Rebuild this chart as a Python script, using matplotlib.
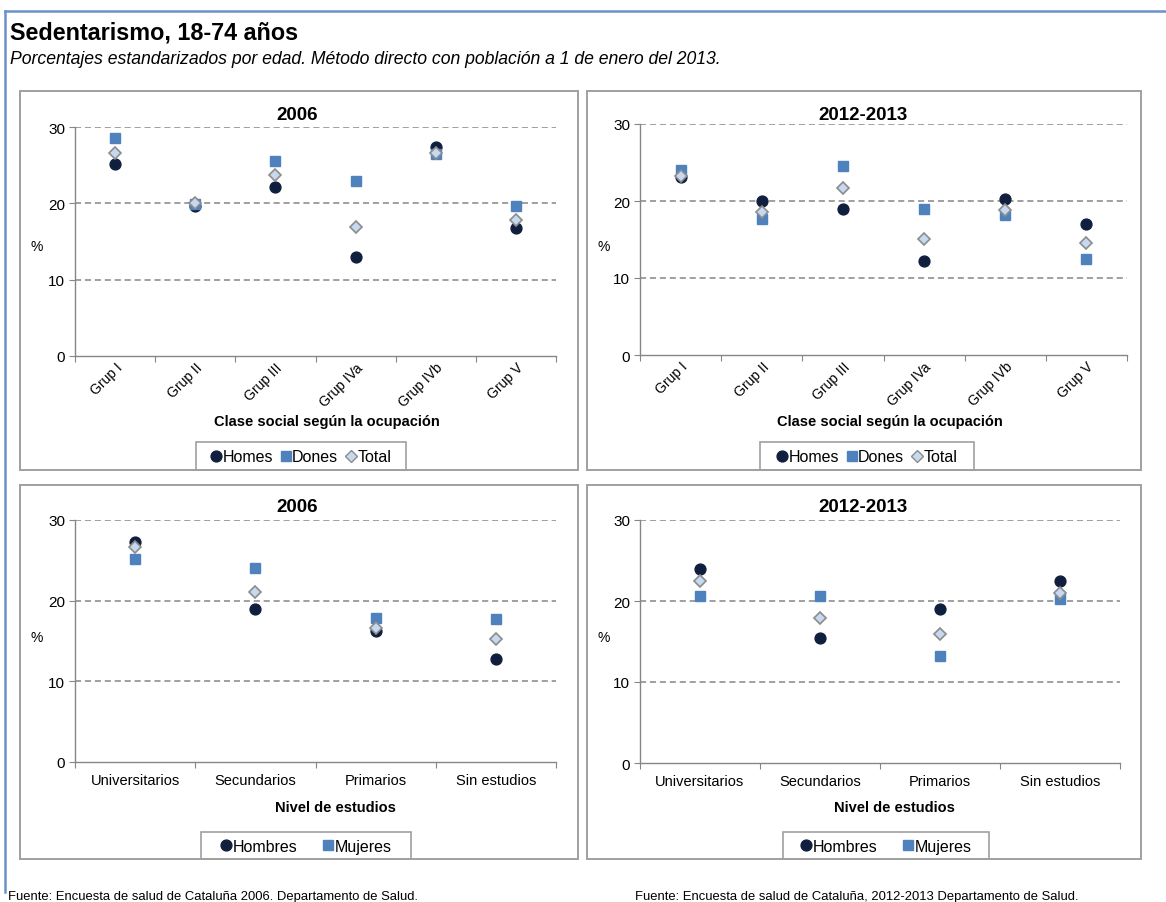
import matplotlib
matplotlib.use("Agg")
import matplotlib.pyplot as plt
import matplotlib.transforms as mtransforms
from matplotlib.patches import Rectangle
from matplotlib.lines import Line2D
import numpy as np

plt.rcParams['font.family'] = ['Liberation Sans', 'DejaVu Sans']

# ---- data ---------------------------------------------------------------
clases = ["Grup I", "Grup II", "Grup III", "Grup IVa", "Grup IVb", "Grup V"]
homes_2006 = [25.2, 19.7, 22.1, 13.0, 27.4, 16.8]
dones_2006 = [28.6, 19.9, 25.5, 22.9, 26.4, 19.6]
total_2006 = [26.6, 20.0, 23.7, 16.9, 26.6, 17.8]
homes_2012 = [23.1, 20.0, 18.9, 12.2, 20.2, 17.0]
dones_2012 = [24.0, 17.6, 24.5, 18.9, 18.2, 12.5]
total_2012 = [23.3, 18.6, 21.7, 15.1, 18.8, 14.6]

estudios = ["Universitarios", "Secundarios", "Primarios", "Sin estudios"]
hombres_est_2006 = [27.3, 19.0, 16.2, 12.8]
mujeres_est_2006 = [25.2, 24.0, 17.9, 17.7]
total_est_2006 = [26.7, 21.1, 16.6, 15.2]
hombres_est_2012 = [24.0, 15.4, 19.0, 22.5]
mujeres_est_2012 = [20.6, 20.6, 13.2, 20.2]
total_est_2012 = [22.5, 17.9, 15.9, 21.0]

y_ticks = [0, 10, 20, 30]

# ---- styles -------------------------------------------------------------
C_MEN = "#0f1f3d"
C_WOMEN = "#4f81bd"
C_TOT_FILL = "#c6d9f1"
C_TOT_EDGE = "#8c8c8c"
C_AXIS = "#868686"
C_FRAME = "#a0a0a0"

W, H = 1166, 903
fig = plt.figure(figsize=(W / 100, H / 100), dpi=100)


def fx(px):
    return px / W


def fy(py):
    return 1 - py / H


def add_axes(left, right, top, bottom):
    return fig.add_axes([fx(left), fy(bottom), fx(right - left), (bottom - top) / H])


def frame(left, right, top, bottom, color=C_FRAME, lw=1.4, z=0):
    fig.patches.append(Rectangle((fx(left), fy(bottom)), fx(right - left), (bottom - top) / H,
                                 transform=fig.transFigure, fill=False,
                                 edgecolor=color, linewidth=lw, zorder=z))


def panel(ax, cats, men, women, total, rotate):
    n = len(cats)
    x = np.arange(n) + 0.5
    ax.set_xlim(0, n)
    ax.set_ylim(0, 30)
    for v in y_ticks[1:]:
        ax.axhline(v, color=C_AXIS, lw=1.1, ls=(0, (4, 2.5)), zorder=1)
    ax.plot(x, men, ls='none', marker='o', ms=7.8, color=C_MEN, zorder=3)
    ax.plot(x, women, ls='none', marker='s', ms=7.2, color=C_WOMEN, zorder=4)
    ax.plot(x, total, ls='none', marker='D', ms=6.6, mfc=C_TOT_FILL, mec=C_TOT_EDGE,
            mew=1.2, zorder=5)
    for s in ('top', 'right'):
        ax.spines[s].set_visible(False)
    for s in ('left', 'bottom'):
        ax.spines[s].set_color(C_AXIS)
        ax.spines[s].set_linewidth(1.0)
    ax.set_yticks(y_ticks)
    ax.tick_params(axis='y', length=4, color=C_AXIS, labelsize=11, pad=3)
    ax.set_xticks(np.arange(n + 1))
    ax.set_xticklabels([])
    ax.tick_params(axis='x', which='major', length=4, color=C_AXIS)
    ax.set_xticks(x, minor=True)
    if rotate:
        labels = ax.set_xticklabels(cats, minor=True, rotation=45, ha='right',
                                    rotation_mode='anchor', fontsize=10)
        shift = mtransforms.ScaledTranslation(4 / 100, 0, fig.dpi_scale_trans)
        for lab in labels:
            lab.set_transform(lab.get_transform() + shift)
        ax.tick_params(axis='x', which='minor', length=0, pad=3)
    else:
        ax.set_xticklabels(cats, minor=True, fontsize=10.5)
        ax.tick_params(axis='x', which='minor', length=0, pad=8)
    ax.set_facecolor('none')


def legend_box(left, right, top, bottom, labels, with_total, spacing):
    frame(left, right, top, bottom, lw=1.2)
    handles = [Line2D([], [], ls='none', marker='o', ms=7.8, color=C_MEN),
               Line2D([], [], ls='none', marker='s', ms=7.2, color=C_WOMEN)]
    if with_total:
        handles.append(Line2D([], [], ls='none', marker='D', ms=6.0, mfc=C_TOT_FILL,
                              mec=C_TOT_EDGE, mew=1.0))
    fig.legend(handles, labels, loc='center',
               bbox_to_anchor=(fx((left + right) / 2), fy((top + bottom) / 2 + 1)),
               ncol=len(labels), frameon=False, fontsize=11.5, handlelength=0.7,
               handletextpad=0.05, columnspacing=spacing, borderpad=0)


# ---- outer border ------------------------------------------------------
fig.add_artist(Line2D([fx(5), fx(5)], [fy(12), fy(893)], transform=fig.transFigure,
                      color="#6a92c8", lw=1.8))
fig.add_artist(Line2D([fx(5), 1], [fy(12), fy(12)], transform=fig.transFigure,
                      color="#6a92c8", lw=1.8))

fig.text(fx(10), fy(33), "Sedentarismo, 18-74 años", fontsize=16.8, fontweight='bold',
         va='center', ha='left')
fig.text(fx(10), fy(59), "Porcentajes estandarizados por edad. Método directo con población "
         "a 1 de enero del 2013.", fontsize=12.7, style='italic', va='center', ha='left')

# ---- panel frames ------------------------------------------------------
frame(20, 578, 92, 471)
frame(587, 1141, 92, 471)
frame(20, 578, 486, 860)
frame(587, 1141, 486, 860)

# ---- occupational class panels -----------------------------------------
ax1 = add_axes(75, 556, 128, 357)
panel(ax1, clases, homes_2006, dones_2006, total_2006, True)
ax2 = add_axes(640, 1127, 125, 356)
panel(ax2, clases, homes_2012, dones_2012, total_2012, True)

# ---- education panels ---------------------------------------------------
ax3 = add_axes(75, 556, 521, 763)
panel(ax3, estudios, hombres_est_2006, mujeres_est_2006, total_est_2006, False)
ax4 = add_axes(640, 1120, 521, 764)
panel(ax4, estudios, hombres_est_2012, mujeres_est_2012, total_est_2012, False)

for ax, (xc, yt), (xl, yl) in [(ax1, (297, 115), (327, 422)),
                               (ax2, (863, 115), (890, 422)),
                               (ax3, (297, 508), (335, 808)),
                               (ax4, (863, 508), (894, 808))]:
    fig.text(fx(xc), fy(yt), "2006" if ax in (ax1, ax3) else "2012-2013",
             fontsize=13.5, fontweight='bold', ha='center', va='center')
    fig.text(fx(xl), fy(yl), "Clase social según la ocupación" if ax in (ax1, ax2)
             else "Nivel de estudios", fontsize=10.5, fontweight='bold',
             ha='center', va='center')

for xp, yp in [(37, 247), (604, 247), (37, 638), (604, 638)]:
    fig.text(fx(xp), fy(yp), "%", fontsize=10, ha='center', va='center')

# ---- legends -------------------------------------------------------------
legend_box(196, 406, 443, 471, ["Homes", "Dones", "Total"], True, 0.45)
legend_box(760, 974, 443, 471, ["Homes", "Dones", "Total"], True, 0.45)
legend_box(201, 411, 833, 860, ["Hombres", "Mujeres"], False, 1.6)
legend_box(783, 989, 833, 860, ["Hombres", "Mujeres"], False, 1.6)

# ---- sources -------------------------------------------------------------
fig.text(fx(8), fy(897), "Fuente: Encuesta de salud de Cataluña 2006. Departamento de Salud.",
         fontsize=9.4, ha='left', va='center')
fig.text(fx(635), fy(897), "Fuente: Encuesta de salud de Cataluña, 2012-2013 Departamento de Salud.",
         fontsize=9.4, ha='left', va='center')

fig.savefig("out.png", dpi=100)
